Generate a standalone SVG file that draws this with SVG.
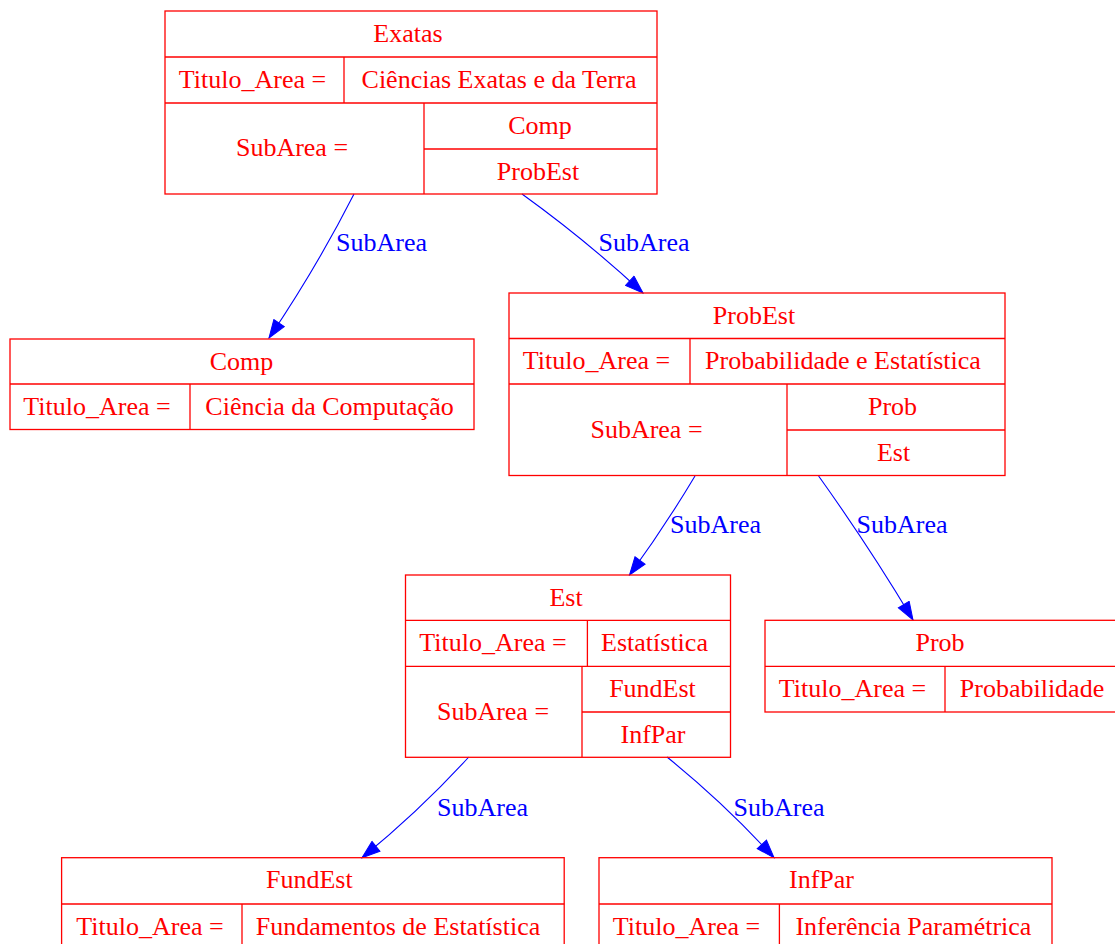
<svg xmlns="http://www.w3.org/2000/svg" width="1115" height="944" viewBox="0 0 1115 944">
  <style>
    .box { fill: none; stroke: #ff0000; stroke-width: 1.3; }
    .sep { stroke: #ff0000; stroke-width: 1.3; }
    .t { font-family: "Liberation Serif", "Times New Roman", serif; font-size: 26px; fill: #ff0000; text-anchor: middle; }
    .edge { fill: none; stroke: #0000ff; stroke-width: 1.1; }
    .lbl { font-family: "Liberation Serif", "Times New Roman", serif; font-size: 26px; fill: #0000ff; text-anchor: middle; }
  </style>
  <defs>
    <marker id="arrow" markerUnits="userSpaceOnUse" markerWidth="20" markerHeight="14" viewBox="0 -7 18 14" refX="18" refY="0" orient="auto">
      <path d="M0,-6.3 L18,0 L0,6.3 Z" fill="#0000ff" stroke="#0000ff" stroke-width="1"/>
    </marker>
  </defs>
  <rect x="0" y="0" width="1115" height="944" fill="#ffffff"/>

  <!-- connectors -->
  <g id="edges">
    <path class="edge" d="M354,194 C328.7,243.7 300.3,291.7 269,338" marker-end="url(#arrow)"/>
    <text class="lbl" x="381.5" y="251">SubArea</text>
    <path class="edge" d="M522,194 C564.3,224.5 604.7,257.5 643,293" marker-end="url(#arrow)"/>
    <text class="lbl" x="644" y="251">SubArea</text>
    <path class="edge" d="M695,476 C674.7,510 652.8,543 629.5,575" marker-end="url(#arrow)"/>
    <text class="lbl" x="715.5" y="533">SubArea</text>
    <path class="edge" d="M818.6,476 C852,522.7 883.5,570.7 913,620" marker-end="url(#arrow)"/>
    <text class="lbl" x="902" y="533">SubArea</text>
    <path class="edge" d="M468.8,757 C435.7,793.2 400.1,826.7 362,857.7" marker-end="url(#arrow)"/>
    <text class="lbl" x="482.5" y="816">SubArea</text>
    <path class="edge" d="M667,757 C705.2,787.9 740.8,821.4 774,857.7" marker-end="url(#arrow)"/>
    <text class="lbl" x="779" y="816">SubArea</text>
  </g>

  <!-- Exatas -->
  <g id="node-Exatas">
    <rect class="box" x="165" y="11" width="492" height="183"/>
    <line class="sep" x1="165" y1="57" x2="657" y2="57"/>
    <line class="sep" x1="165" y1="103" x2="657" y2="103"/>
    <line class="sep" x1="424" y1="149" x2="657" y2="149"/>
    <line class="sep" x1="344" y1="57" x2="344" y2="103"/>
    <line class="sep" x1="424" y1="103" x2="424" y2="194"/>
    <text class="t" x="408" y="41.5">Exatas</text>
    <text class="t" x="252.5" y="87.5">Titulo_Area =</text>
    <text class="t" x="499" y="87.5">Ciências Exatas e da Terra</text>
    <text class="t" x="292" y="156">SubArea =</text>
    <text class="t" x="540" y="133.5">Comp</text>
    <text class="t" x="538" y="179.5">ProbEst</text>
  </g>

  <!-- Comp -->
  <g id="node-Comp">
    <rect class="box" x="10" y="339" width="464" height="90.5"/>
    <line class="sep" x1="10" y1="384" x2="474" y2="384"/>
    <line class="sep" x1="190" y1="384" x2="190" y2="429.5"/>
    <text class="t" x="241.5" y="369.5">Comp</text>
    <text class="t" x="97" y="414.5">Titulo_Area =</text>
    <text class="t" x="329.5" y="414.5">Ciência da Computação</text>
  </g>

  <!-- ProbEst -->
  <g id="node-ProbEst">
    <rect class="box" x="509" y="293" width="496" height="182.5"/>
    <line class="sep" x1="509" y1="338.5" x2="1005" y2="338.5"/>
    <line class="sep" x1="509" y1="384" x2="1005" y2="384"/>
    <line class="sep" x1="787" y1="430" x2="1005" y2="430"/>
    <line class="sep" x1="690" y1="338.5" x2="690" y2="384"/>
    <line class="sep" x1="787" y1="384" x2="787" y2="475.5"/>
    <text class="t" x="754" y="323.5">ProbEst</text>
    <text class="t" x="596.5" y="369">Titulo_Area =</text>
    <text class="t" x="843" y="369">Probabilidade e Estatística</text>
    <text class="t" x="646.5" y="437.5">SubArea =</text>
    <text class="t" x="892.5" y="414.5">Prob</text>
    <text class="t" x="893.5" y="460.5">Est</text>
  </g>

  <!-- Est -->
  <g id="node-Est">
    <rect class="box" x="405.5" y="575" width="325" height="182.3"/>
    <line class="sep" x1="405.5" y1="620.3" x2="730.5" y2="620.3"/>
    <line class="sep" x1="405.5" y1="666.3" x2="730.5" y2="666.3"/>
    <line class="sep" x1="582" y1="712" x2="730.5" y2="712"/>
    <line class="sep" x1="587.4" y1="620.3" x2="587.4" y2="666.3"/>
    <line class="sep" x1="582" y1="666.3" x2="582" y2="757.3"/>
    <text class="t" x="566" y="605.5">Est</text>
    <text class="t" x="493" y="651">Titulo_Area =</text>
    <text class="t" x="654.5" y="651">Estatística</text>
    <text class="t" x="493" y="719.5">SubArea =</text>
    <text class="t" x="652.5" y="696.5">FundEst</text>
    <text class="t" x="653" y="742.5">InfPar</text>
  </g>

  <!-- Prob -->
  <g id="node-Prob">
    <rect class="box" x="765" y="620.3" width="354" height="91.7"/>
    <line class="sep" x1="765" y1="666.3" x2="1119" y2="666.3"/>
    <line class="sep" x1="945" y1="666.3" x2="945" y2="712"/>
    <text class="t" x="940" y="651">Prob</text>
    <text class="t" x="852.5" y="696.5">Titulo_Area =</text>
    <text class="t" x="1032" y="696.5">Probabilidade</text>
  </g>

  <!-- FundEst -->
  <g id="node-FundEst">
    <rect class="box" x="61.6" y="857.7" width="502.6" height="92.3"/>
    <line class="sep" x1="61.6" y1="904" x2="564.2" y2="904"/>
    <line class="sep" x1="242" y1="904" x2="242" y2="950"/>
    <text class="t" x="309.3" y="888">FundEst</text>
    <text class="t" x="150" y="934.5">Titulo_Area =</text>
    <text class="t" x="398" y="934.5">Fundamentos de Estatística</text>
  </g>

  <!-- InfPar -->
  <g id="node-InfPar">
    <rect class="box" x="599" y="857.7" width="453" height="92.3"/>
    <line class="sep" x1="599" y1="904" x2="1052" y2="904"/>
    <line class="sep" x1="779.4" y1="904" x2="779.4" y2="950"/>
    <text class="t" x="821.5" y="888">InfPar</text>
    <text class="t" x="686.5" y="934.5">Titulo_Area =</text>
    <text class="t" x="913.4" y="934.5">Inferência Paramétrica</text>
  </g>
</svg>
